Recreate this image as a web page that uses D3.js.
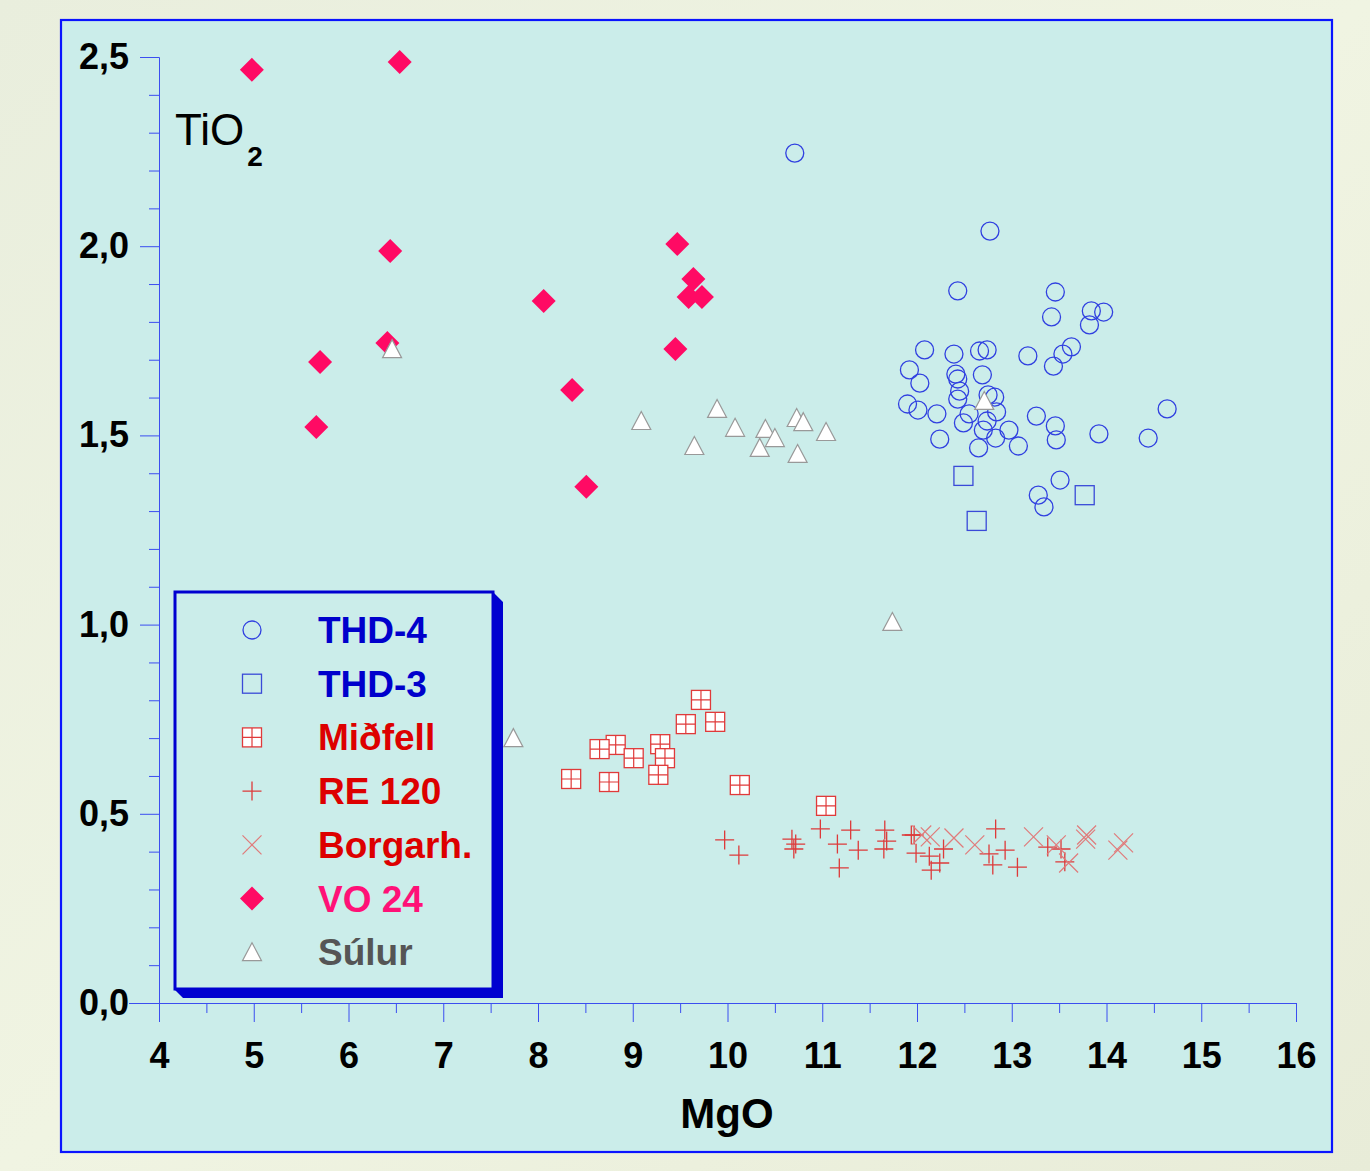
<!DOCTYPE html>
<html><head><meta charset="utf-8">
<script src="https://cdn.jsdelivr.net/npm/d3@7"></script>
<style>body{margin:0;background:#eef2df;} svg{display:block}</style>
</head><body>
<svg id="c" width="1370" height="1171"></svg>
<script>
// ---- data (MgO, TiO2) ----
const xTicks = [4,5,6,7,8,9,10,11,12,13,14,15,16];
const yTicks = [0,0.5,1.0,1.5,2.0,2.5];
const seriesNames = ["THD-4","THD-3","Miðfell","RE 120","Borgarh.","VO 24","Súlur"];

const thd4 = [[10.71,2.246],[12.77,2.040],[12.43,1.882],[13.46,1.879],[13.42,1.813],[13.84,1.829],[13.97,1.826],[13.82,1.792],
 [12.08,1.726],[12.39,1.715],[12.66,1.723],[12.74,1.726],[13.17,1.710],[13.63,1.734],[13.54,1.715],[13.44,1.683],
 [11.92,1.673],[12.03,1.638],[12.41,1.662],[12.43,1.649],[12.69,1.660],[12.45,1.617],[12.43,1.596],[12.75,1.607],[12.82,1.601],
 [11.90,1.583],[12.01,1.567],[12.21,1.557],[12.55,1.557],[12.84,1.562],[12.74,1.538],[12.49,1.533],[12.70,1.514],[12.97,1.514],
 [13.26,1.551],[13.46,1.525],[13.47,1.488],[12.83,1.493],[12.24,1.490],[12.65,1.467],[13.07,1.472],[13.92,1.504],[14.64,1.570],
 [14.44,1.493],[13.51,1.382],[13.28,1.342],[13.34,1.311]];
const thd3 = [[12.49,1.393],[13.77,1.342],[12.63,1.274]];
const midfell = [[9.72,0.801],[9.56,0.737],[9.87,0.743],[8.82,0.682],[8.65,0.671],[9.01,0.647],[9.29,0.684],[9.34,0.647],
 [9.27,0.603],[8.35,0.592],[8.75,0.584],[10.13,0.576],[11.04,0.521]];
const re120 = [[9.97,0.431],[10.12,0.391],[10.68,0.433],[10.72,0.420],[10.70,0.407],[10.98,0.460],[11.16,0.420],[11.30,0.457],
 [11.38,0.404],[11.18,0.357],[11.66,0.457],[11.68,0.428],[11.65,0.407],[11.94,0.444],[11.97,0.444],[11.99,0.396],[12.13,0.388],
 [12.28,0.407],[12.24,0.370],[12.15,0.351],[12.83,0.460],[12.76,0.394],[12.80,0.365],[12.93,0.404],[13.06,0.359],[13.38,0.412],
 [13.52,0.407],[13.56,0.373]];
const borgarh = [[12.05,0.444],[12.14,0.439],[12.39,0.436],[12.61,0.418],[13.23,0.439],[13.47,0.418],[13.60,0.370],[13.79,0.444],
 [13.78,0.433],[14.18,0.423],[14.12,0.404]];
const vo24 = [[4.98,2.466],[6.54,2.487],[6.44,1.987],[8.06,1.855],[9.47,2.006],[9.64,1.913],[9.59,1.866],[9.73,1.866],
 [9.45,1.728],[5.70,1.694],[6.41,1.744],[8.36,1.620],[5.66,1.522],[8.51,1.364]];
const sulur = [[6.46,1.728],[9.09,1.538],[9.89,1.570],[9.65,1.472],[10.08,1.520],[10.40,1.517],[10.50,1.493],[10.34,1.467],
 [10.73,1.546],[10.80,1.535],[11.04,1.509],[10.74,1.451],[12.71,1.591],[11.74,1.007],[7.74,0.700]];

// ---- styles ----
const series = [
  {name:seriesNames[0], data:thd4, sym:"circle", stroke:"#3040e0", fill:"none", text:"#0000cc"},
  {name:seriesNames[1], data:thd3, sym:"square", stroke:"#3a4ad8", fill:"none", text:"#0000cc"},
  {name:seriesNames[2], data:midfell, sym:"gridsq", stroke:"#e03a3a", fill:"#ffffff", text:"#dd0000"},
  {name:seriesNames[3], data:re120, sym:"plus", stroke:"#dd3a3a", fill:"none", text:"#dd0000"},
  {name:seriesNames[4], data:borgarh, sym:"cross", stroke:"#e07a7a", fill:"none", text:"#dd0000"},
  {name:seriesNames[5], data:vo24, sym:"diamond", stroke:"none", fill:"#ff0a64", text:"#ff1177"},
  {name:seriesNames[6], data:sulur, sym:"triangle", stroke:"#999999", fill:"#ffffff", text:"#555555"}
];

const svg = d3.select("#c");
const FONT = "'Liberation Sans', Arial, sans-serif";

// background
const defs = svg.append("defs");
const lg = defs.append("linearGradient").attr("id","bg").attr("x1","0").attr("y1","0").attr("x2","1").attr("y2","1");
lg.append("stop").attr("offset","0").attr("stop-color","#e9eedd");
lg.append("stop").attr("offset","0.5").attr("stop-color","#f0f4e2");
lg.append("stop").attr("offset","1").attr("stop-color","#e8ecd8");
svg.append("rect").attr("width",1370).attr("height",1171).attr("fill","url(#bg)");
svg.append("rect").attr("x",61).attr("y",20).attr("width",1271).attr("height",1132)
  .attr("fill","#cbedea").attr("stroke","#0a14ff").attr("stroke-width",2.2);

const x = d3.scaleLinear().domain([4,16]).range([159,1296]);
const y = d3.scaleLinear().domain([0,2.5]).range([1003,57]);
const axisColor = "#3b4ef0";

// minor ticks
const xMinor = d3.range(4.5,16,1);
const yMinor = d3.range(0,2.5001,0.1).filter(v => Math.abs(v*2-Math.round(v*2))>1e-6);

const gxm = svg.append("g").attr("transform",`translate(0,${y(0)})`)
  .call(d3.axisBottom(x).tickValues(xMinor).tickSize(10).tickSizeOuter(0).tickFormat(""));
const gym = svg.append("g").attr("transform",`translate(${x(4)},0)`)
  .call(d3.axisLeft(y).tickValues(yMinor).tickSize(10).tickSizeOuter(0).tickFormat(""));
const gx = svg.append("g").attr("transform",`translate(0,${y(0)})`)
  .call(d3.axisBottom(x).tickValues(xTicks).tickSize(19).tickSizeOuter(0).tickPadding(20).tickFormat(d3.format("d")));
const gy = svg.append("g").attr("transform",`translate(${x(4)},0)`)
  .call(d3.axisLeft(y).tickValues(yTicks).tickSize(19).tickSizeOuter(0).tickPadding(11)
    .tickFormat(d => d3.format(".1f")(d).replace(".",",")));
[gxm,gym,gx,gy].forEach(g => {
  g.selectAll("line").attr("stroke",axisColor).attr("stroke-width",1);
  g.select(".domain").attr("stroke",axisColor).attr("stroke-width",1);
  g.selectAll("text").attr("fill","#000").attr("font-family",FONT).attr("font-weight","bold").attr("font-size",36);
});
// x axis baseline extends left of y axis
svg.append("line").attr("x1",x(4)-30).attr("x2",x(4)).attr("y1",y(0)+0.5).attr("y2",y(0)+0.5)
  .attr("stroke",axisColor).attr("stroke-width",1);

// axis titles
svg.append("text").attr("x",727).attr("y",1128).attr("text-anchor","middle")
  .attr("font-family",FONT).attr("font-weight","bold").attr("font-size",42).attr("fill","#000").text("MgO");
const tt = svg.append("text").attr("x",175).attr("y",145).attr("font-family",FONT).attr("font-size",44).attr("fill","#000");
tt.append("tspan").text("TiO");
tt.append("tspan").attr("dx",3).attr("dy",21).attr("font-size",28).attr("font-weight","bold").text("2");

// symbols
function drawSym(g, s, cx, cy) {
  const h = 9.5;
  if (s.sym==="circle") {
    g.append("circle").attr("cx",cx).attr("cy",cy).attr("r",9).attr("fill","none").attr("stroke",s.stroke).attr("stroke-width",1.3);
  } else if (s.sym==="square") {
    g.append("rect").attr("x",cx-h).attr("y",cy-h).attr("width",2*h).attr("height",2*h).attr("fill","none").attr("stroke",s.stroke).attr("stroke-width",1.3);
  } else if (s.sym==="gridsq") {
    g.append("rect").attr("x",cx-h).attr("y",cy-h).attr("width",2*h).attr("height",2*h).attr("fill","#fff").attr("stroke",s.stroke).attr("stroke-width",1.3);
    g.append("path").attr("d",`M${cx},${cy-h}V${cy+h}M${cx-h},${cy}H${cx+h}`).attr("stroke",s.stroke).attr("stroke-width",1.2);
  } else if (s.sym==="plus") {
    g.append("path").attr("d",`M${cx},${cy-h}V${cy+h}M${cx-h},${cy}H${cx+h}`).attr("stroke",s.stroke).attr("stroke-width",1.3);
  } else if (s.sym==="cross") {
    const c = 9.5;
    g.append("path").attr("d",`M${cx-c},${cy-c}L${cx+c},${cy+c}M${cx-c},${cy+c}L${cx+c},${cy-c}`).attr("stroke",s.stroke).attr("stroke-width",1.2);
  } else if (s.sym==="diamond") {
    const d = 12;
    g.append("path").attr("d",`M${cx},${cy-d}L${cx+d},${cy}L${cx},${cy+d}L${cx-d},${cy}Z`).attr("fill",s.fill);
  } else if (s.sym==="triangle") {
    g.append("path").attr("d",`M${cx},${cy-9.5}L${cx+9.5},${cy+8.5}L${cx-9.5},${cy+8.5}Z`).attr("fill","#fff").attr("stroke",s.stroke).attr("stroke-width",1.2);
  }
}

series.forEach(s => {
  const g = svg.append("g").attr("class","series");
  s.data.forEach(d => drawSym(g, s, x(d[0]), y(d[1])));
});

// legend
const leg = svg.append("g");
leg.append("path").attr("d","M493,592L503,602L503,998L183,998L175,990L493,990Z").attr("fill","#0000d0");
leg.append("rect").attr("x",175).attr("y",592).attr("width",318).attr("height",397)
  .attr("fill","#cbedea").attr("stroke","#0000d0").attr("stroke-width",3);
series.forEach((s,i) => {
  const cy = 630 + i*53.7;
  drawSym(leg, s, 252, cy);
  leg.append("text").attr("x",318).attr("y",cy+13).attr("font-family",FONT).attr("font-weight","bold")
    .attr("font-size",37).attr("fill",s.text).text(s.name);
});
</script></body></html>
